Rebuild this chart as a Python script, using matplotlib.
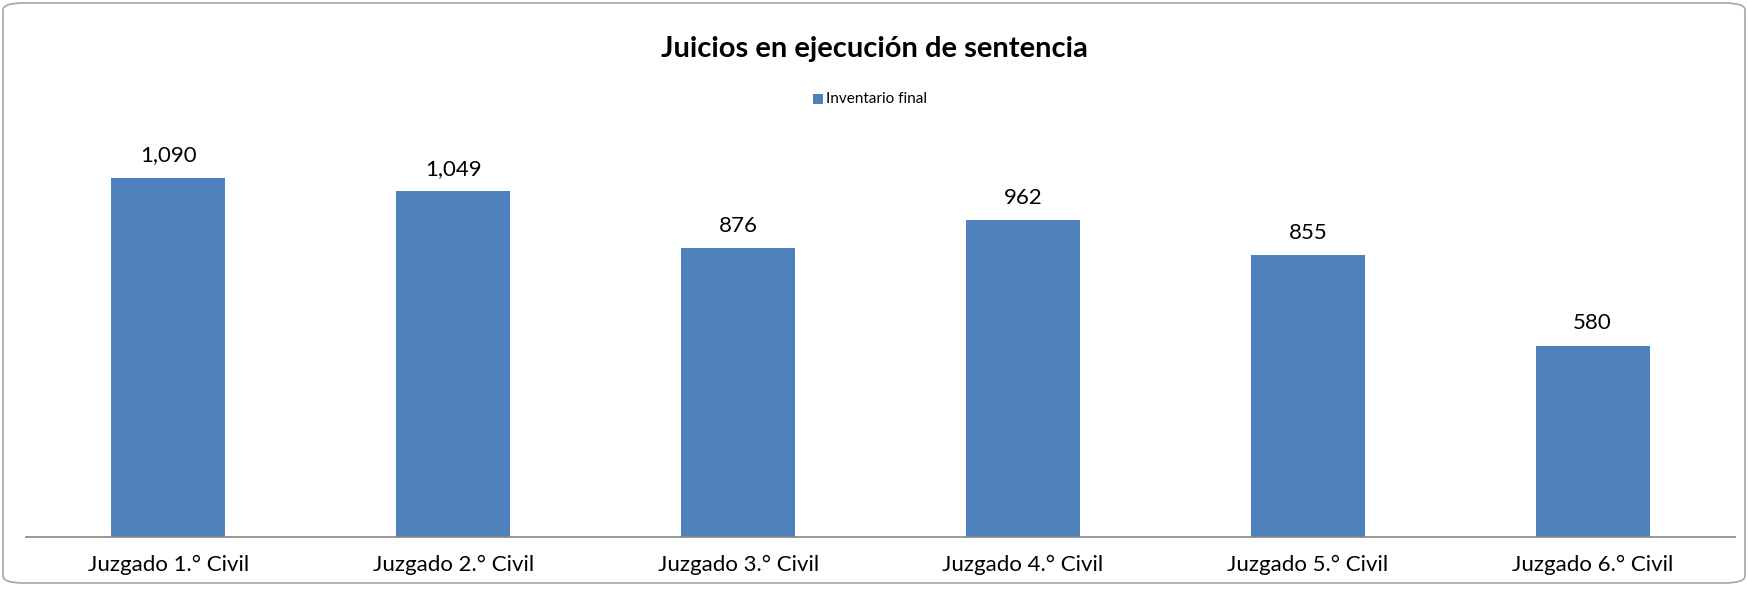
import matplotlib
matplotlib.use("Agg")
import matplotlib.pyplot as plt
from matplotlib.patches import FancyBboxPatch, Rectangle

categories = ["Juzgado 1.° Civil", "Juzgado 2.° Civil", "Juzgado 3.° Civil",
              "Juzgado 4.° Civil", "Juzgado 5.° Civil", "Juzgado 6.° Civil"]
values = [1090, 1049, 876, 962, 855, 580]
series_name = "Inventario final"
title = "Juicios en ejecución de sentencia"

W, H = 1748, 593
fig = plt.figure(figsize=(W / 100, H / 100), dpi=100)
plt.rcParams['font.family'] = ['Lato', 'DejaVu Sans']

# rounded border
border = FancyBboxPatch((3 / W, 10 / H), (W - 6) / W, (H - 13) / H,
                        boxstyle="round,pad=0,rounding_size=0.012",
                        transform=fig.transFigure, facecolor="none",
                        edgecolor="#a6a6a6", linewidth=1.2, zorder=-5)
fig.patches.append(border)

# axes: x from 26 to 1735, y bottom at 537
ax_left, ax_right = 26, 1735
ax_bottom, ax_top = 537, 100
ax = fig.add_axes([ax_left / W, (H - ax_bottom) / H,
                   (ax_right - ax_left) / W, (ax_bottom - ax_top) / H])
ax.set_facecolor("none")
ppu = 0.3295
ax.set_ylim(0, (ax_bottom - ax_top) / ppu)
ax.set_xlim(-0.5, len(categories) - 0.5)

x = list(range(len(categories)))
bars = ax.bar(x, values, width=0.4, color="#4f81bd")
for xi, v in zip(x, values):
    ax.annotate(f"{v:,}", (xi, v), xytext=(0, 9), textcoords="offset points",
                ha="center", va="bottom", fontsize=16, color="black")

ax.set_xticks(x)
ax.set_xticklabels(categories, fontsize=16)
ax.tick_params(axis="x", length=0, pad=13)
ax.set_yticks([])
for s in ["top", "right", "left"]:
    ax.spines[s].set_visible(False)
ax.spines["bottom"].set_color("#868686")
ax.spines["bottom"].set_linewidth(1.2)

fig.text(0.5, 1 - 49 / H, title, ha="center", va="center",
         fontsize=21, fontweight="bold")

# legend
fig.patches.append(Rectangle((813 / W, 1 - 104 / H), 10 / W, 10 / H,
                             transform=fig.transFigure, facecolor="#4f81bd",
                             edgecolor="none"))
fig.text(826 / W, 1 - 99 / H, series_name, ha="left", va="center", fontsize=11)

fig.savefig("out.png", dpi=100)
